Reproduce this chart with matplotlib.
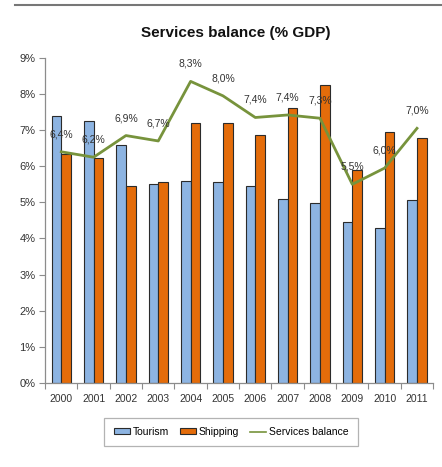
import numpy as np
import matplotlib
matplotlib.use("Agg")
import matplotlib.pyplot as plt
from matplotlib.patches import Patch
from matplotlib.lines import Line2D

plt.rcParams['font.family'] = ['Liberation Sans Narrow', 'Liberation Sans', 'DejaVu Sans']

# Data (% of GDP)
years = ['2000', '2001', '2002', '2003', '2004', '2005',
         '2006', '2007', '2008', '2009', '2010', '2011']
tourism = [7.38, 7.25, 6.58, 5.52, 5.59, 5.56, 5.45, 5.10, 4.99, 4.47, 4.28, 5.06]
shipping = [6.33, 6.22, 5.45, 5.56, 7.21, 7.21, 6.87, 7.60, 8.25, 5.89, 6.95, 6.77]
services = [6.4, 6.25, 6.85, 6.7, 8.35, 7.95, 7.35, 7.42, 7.33, 5.5, 5.95, 7.05]
services_labels = ['6,4%', '6,2%', '6,9%', '6,7%', '8,3%', '8,0%',
                   '7,4%', '7,4%', '7,3%', '5,5%', '6,0%', '7,0%']
y_ticks = [0, 1, 2, 3, 4, 5, 6, 7, 8, 9]

c_tourism = '#8DB4E2'
c_shipping = '#E46C0A'
c_line = '#77933C'
c_edge = '#2b2b2b'
c_axis = '#8c8c8c'
c_text = '#333333'

fig = plt.figure(figsize=(4.42, 4.67), dpi=100)
ax = fig.add_axes([0.102, 0.180, 0.878, 0.696])

x = np.arange(len(years))
w = 0.30
ax.bar(x - w / 2, tourism, w, color=c_tourism, edgecolor=c_edge, linewidth=0.8, zorder=2)
ax.bar(x + w / 2, shipping, w, color=c_shipping, edgecolor=c_edge, linewidth=0.8, zorder=2)
ax.plot(x, services, color=c_line, linewidth=2.0, zorder=3)

for xi, yi, lab in zip(x, services, services_labels):
    ax.annotate(lab, (xi, yi), xytext=(0, 9), textcoords='offset points',
                ha='center', va='bottom', fontsize=7.5, color=c_text, zorder=4)

ax.set_xlim(-0.5, len(years) - 0.5)
ax.set_ylim(0, 9)
ax.set_yticks(y_ticks)
ax.set_yticklabels([f'{t}%' for t in y_ticks], fontsize=8, color=c_text)

# category ticks between groups, labels at group centres
ax.set_xticks(np.arange(-0.5, len(years), 1.0))
ax.set_xticklabels([])
ax.set_xticks(x, minor=True)
ax.set_xticklabels(years, minor=True, fontsize=7.5, color=c_text)
ax.tick_params(axis='x', which='minor', length=0, pad=8)
ax.tick_params(axis='x', which='major', length=4, color=c_axis)
ax.tick_params(axis='y', length=4, color=c_axis, pad=3)

for s in ['top', 'right']:
    ax.spines[s].set_visible(False)
for s in ['left', 'bottom']:
    ax.spines[s].set_color(c_axis)
    ax.spines[s].set_linewidth(0.9)

fig.text(0.534, 0.930, 'Services balance (% GDP)', ha='center', va='center',
         fontsize=11, fontweight='bold', color='#111111')

# thin rule along the top of the page
fig.add_artist(Line2D([0.035, 1.0], [0.989, 0.989], color='#777777', linewidth=1.5))

handles = [Patch(facecolor=c_tourism, edgecolor=c_edge, linewidth=0.8),
           Patch(facecolor=c_shipping, edgecolor=c_edge, linewidth=0.8),
           Line2D([], [], color=c_line, linewidth=1.2)]
leg = fig.legend(handles, ['Tourism', 'Shipping', 'Services balance'], ncol=3,
                 loc='center', bbox_to_anchor=(0.523, 0.075), fontsize=7.5,
                 frameon=True, fancybox=False, handlelength=1.6, handleheight=0.55,
                 handletextpad=0.25, columnspacing=1.0, borderpad=0.9)
leg.get_frame().set_edgecolor('#a0a0a0')
leg.get_frame().set_linewidth(0.9)

fig.savefig('out.png', dpi=100)
